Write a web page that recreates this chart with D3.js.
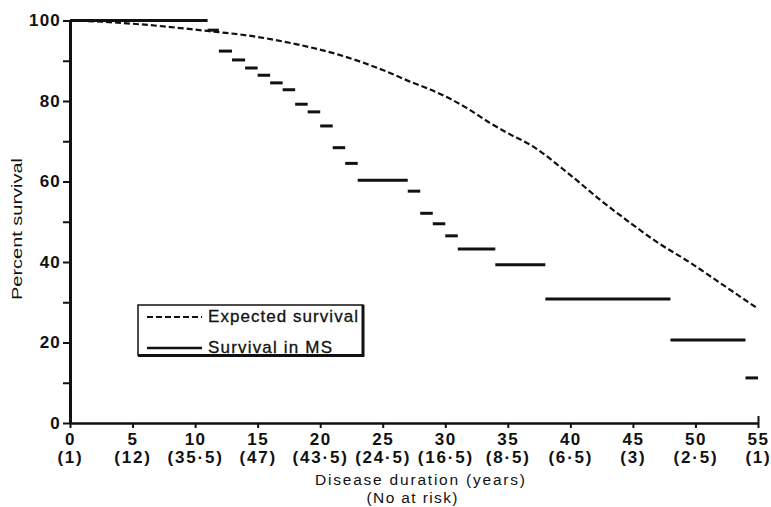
<!DOCTYPE html>
<html>
<head>
<meta charset="utf-8">
<script src="https://cdn.jsdelivr.net/npm/d3@7"></script>
<style>
  body { margin: 0; background: #fff; }
  svg { display: block; }
  text { font-family: "Liberation Sans", Arial, sans-serif; fill: #111; }
</style>
</head>
<body>
<div id="chart"></div>
<script>
// survival in MS, step segments: [from year, to year, percent]
const msFrom = [0, 11, 11.9, 12.95, 14, 15, 16, 17, 18, 19, 20, 21, 22, 23, 27, 28, 29, 30, 31, 34, 38, 48, 54]
const msTo   = [11, 11.9, 12.95, 14, 15, 16, 17, 18, 19, 20, 21, 22, 23, 27, 28, 29, 30, 31, 34, 38, 48, 54, 55]
const msPct  = [100, 97.6, 92.4, 90.2, 88.2, 86.4, 84.5, 82.8, 79.2, 77.3, 73.8, 68.4, 64.5, 60.3, 57.6, 52.1, 49.5, 46.5, 43.2, 39.3, 30.8, 20.6, 11.2]

// expected survival curve
const expYears = [0, 2.5, 5.6, 11, 14.6, 18.4, 21.6, 25, 27.2, 29, 31.7, 33.6, 35, 36.8, 40, 42.4, 44.8, 46.9, 49.6, 52.2, 55]
const expPct   = [100, 99.7, 99.05, 97.4, 96.1, 93.9, 91.4, 87.7, 84.8, 82.6, 78.3, 74.5, 72, 69.1, 61.6, 55.4, 49.7, 45, 39.8, 34.3, 28.4]

const xTicks = [0, 5, 10, 15, 20, 25, 30, 35, 40, 45, 50, 55]
const atRisk = ["(1)", "(12)", "(35·5)", "(47)", "(43·5)", "(24·5)", "(16·5)", "(8·5)", "(6·5)", "(3)", "(2·5)", "(1)"]
const yTicks = [0, 10, 20, 30, 40, 50, 60, 70, 80, 90, 100]

const width = 771, height = 507

const svg = d3.select("#chart").append("svg")
  .attr("width", width)
  .attr("height", height)

const x = d3.scaleLinear().domain([0, 55]).range([70, 758])
const y = d3.scaleLinear().domain([0, 100]).range([423, 20.5])

// y axis
const yAxis = svg.append("g")
  .attr("transform", `translate(${x(0)},0)`)
  .call(d3.axisLeft(y).tickValues(yTicks).tickSize(7).tickSizeOuter(0).tickPadding(2)
    .tickFormat(d => d % 20 === 0 ? d : ""))
yAxis.select(".domain").attr("stroke", "#111").attr("stroke-width", 3)
yAxis.selectAll(".tick line").attr("stroke", "#111").attr("stroke-width", 2)
yAxis.selectAll(".tick text")
  .attr("font-size", 17).attr("font-weight", "bold").attr("fill", "#111")
  .attr("letter-spacing", 1.2)
  .attr("font-family", "Liberation Sans, Arial, sans-serif")

// x axis
const xAxis = svg.append("g")
  .attr("transform", `translate(0,${y(0)})`)
  .call(d3.axisBottom(x).tickValues(xTicks).tickSize(5).tickSizeOuter(0).tickFormat(""))
xAxis.select(".domain").attr("stroke", "#111").attr("stroke-width", 2.5)
xAxis.selectAll(".tick line").attr("stroke", "#111").attr("stroke-width", 2)
  .attr("y1", d => d === 55 ? -7 : 0)

xAxis.selectAll(".tick").append("text")
  .attr("y", 22).attr("text-anchor", "middle")
  .attr("font-size", 17).attr("font-weight", "bold").attr("letter-spacing", 1.5)
  .text(d => d)
xAxis.selectAll(".tick").append("text")
  .attr("y", 40).attr("text-anchor", "middle")
  .attr("font-size", 17).attr("font-weight", "bold").attr("letter-spacing", 1.8)
  .text((d, i) => atRisk[i])

svg.append("text")
  .attr("x", 420).attr("y", 485).attr("text-anchor", "middle")
  .attr("font-size", 15.5)
  .attr("textLength", 210).attr("lengthAdjust", "spacing")
  .text("Disease duration (years)")
svg.append("text")
  .attr("x", 412).attr("y", 503).attr("text-anchor", "middle")
  .attr("font-size", 15.5)
  .attr("textLength", 91).attr("lengthAdjust", "spacing")
  .text("(No at risk)")

svg.append("text")
  .attr("transform", "translate(22,229) rotate(-90)")
  .attr("text-anchor", "middle")
  .attr("font-size", 15)
  .attr("textLength", 142).attr("lengthAdjust", "spacingAndGlyphs")
  .text("Percent survival")

// expected survival
const line = d3.line()
  .x(d => x(d[0]))
  .y(d => y(d[1]))
  .curve(d3.curveMonotoneX)

svg.append("path")
  .datum(expYears.map((yr, i) => [yr, expPct[i]]))
  .attr("d", line)
  .attr("fill", "none")
  .attr("stroke", "#111")
  .attr("stroke-width", 2.2)
  .attr("stroke-dasharray", "6,3")

// survival in MS steps
svg.append("g").selectAll("line")
  .data(msPct)
  .join("line")
  .attr("x1", (d, i) => x(msFrom[i]))
  .attr("x2", (d, i) => x(msTo[i]))
  .attr("y1", d => y(d))
  .attr("y2", d => y(d))
  .attr("stroke", "#111")
  .attr("stroke-width", 3)

// legend
const lg = svg.append("g")
lg.append("rect")
  .attr("x", 138).attr("y", 305).attr("width", 225).attr("height", 50)
  .attr("fill", "#fff").attr("stroke", "#111").attr("stroke-width", 1.5)
lg.append("path")
  .attr("d", "M363,305 V355.5 H138")
  .attr("fill", "none").attr("stroke", "#111").attr("stroke-width", 3)
lg.append("line")
  .attr("x1", 147).attr("x2", 202).attr("y1", 317).attr("y2", 317)
  .attr("stroke", "#111").attr("stroke-width", 2).attr("stroke-dasharray", "6,3")
lg.append("line")
  .attr("x1", 147).attr("x2", 202).attr("y1", 348).attr("y2", 348)
  .attr("stroke", "#111").attr("stroke-width", 2.5)
lg.append("text")
  .attr("x", 208).attr("y", 322).attr("font-size", 17)
  .attr("stroke", "#111").attr("stroke-width", 0.3)
  .attr("textLength", 150).attr("lengthAdjust", "spacing")
  .text("Expected survival")
lg.append("text")
  .attr("x", 208).attr("y", 353).attr("font-size", 17)
  .attr("stroke", "#111").attr("stroke-width", 0.3)
  .attr("textLength", 124).attr("lengthAdjust", "spacing")
  .text("Survival in MS")
</script>
</body>
</html>
